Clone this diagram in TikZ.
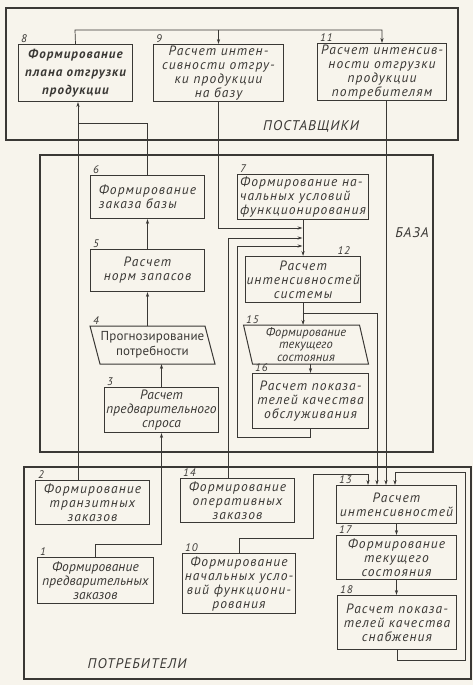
\documentclass[tikz,border=0pt]{standalone}
\usepackage{fontspec}
\setmainfont{PT Sans}
\newfontfamily\handfont[LetterSpace=8]{PT Sans}
\newfontfamily\tightfont[LetterSpace=1]{PT Sans}
\usetikzlibrary{arrows.meta, positioning, calc}
\definecolor{ink}{HTML}{3A3835}
\definecolor{paper}{HTML}{F7F4EC}
\tikzset{
    frame/.style={draw=ink, line width=1.4pt},
    blk/.style={draw=ink, line width=1pt, anchor=north west, align=center, inner sep=1pt,
        font=\handfont\itshape\fontsize{13.5}{14}\selectfont, text=ink},
    slantblk/.style={blk, draw=none},
    tightblk/.style={blk, font=\tightfont\itshape\fontsize{13.5}{14}\selectfont},
    link/.style={draw=ink, line width=0.7pt},
    arr/.style={link, -{Stealth[length=5pt, width=3.2pt]}},
    num/.style={anchor=south west, inner sep=1pt, text=ink,
        font=\handfont\itshape\fontsize{11}{12}\selectfont},
    title/.style={text=ink, font=\handfont\itshape\fontsize{14}{16}\selectfont}
}

\begin{document}
\begin{tikzpicture}[x=1pt, y=-1pt]
    \useasboundingbox (0,0) rectangle (473,685);
    \fill[paper] (0,0) rectangle (473,685);
    % Frames
    \draw[frame] (6,8) rectangle (458,140);
    \draw[frame] (40,155) rectangle (433,452);
    \draw[frame] (24,467) rectangle (471,679);
    \node[title] (tpost) at (311,126) {ПОСТАВЩИКИ};
    \node[title] (tbase) at (412,233) {БАЗА};
    \node[title] (tcons) at (137,664) {ПОТРЕБИТЕЛИ};
    % Suppliers
    \node[blk, minimum width=114, minimum height=57,
        font=\handfont\bfseries\itshape\fontsize{13}{18}\selectfont] (b8) at (18,44)
        {Формирование\\плана отгрузки\\продукции};
    \node[blk, minimum width=130, minimum height=57] (b9) at (153,44)
        {Расчет интен-\\сивности отгру-\\ки продукции\\на базу};
    \node[blk, minimum width=129, minimum height=57] (b11) at (317,43)
        {Расчет интенсив-\\ности отгрузки\\продукции\\потребителям};
    % Base
    \node[blk, minimum width=114, minimum height=43, align=left] (b6) at (90,175)
        {Формирование\\заказа базы};
    \node[blk, minimum width=114, minimum height=42] (b5) at (90,249)
        {Расчет\\норм запасов};
    \node[slantblk, minimum width=114, minimum height=37,
        font=\tightfont\fontsize{13}{15}\selectfont] (b4) at (95,326)
        {Прогнозирование\\потребности};
    \draw[blk] ([xshift=-5pt]b4.north west) -- ([xshift=-5pt]b4.north east)
        -- ([xshift=5pt]b4.south east) -- ([xshift=5pt]b4.south west) -- cycle;
    \node[tightblk, minimum width=114, minimum height=45] (b3) at (104,387)
        {Расчет\\предварительного\\спроса};
    \node[blk, minimum width=131, minimum height=45, align=left] (b7) at (237,174)
        {Формирование на-\\чальных условий\\функционирования};
    \node[blk, minimum width=115, minimum height=46] (b12) at (245,256)
        {Расчет\\интенсивностей\\системы};
    \node[slantblk, minimum width=115, minimum height=38,
        font=\tightfont\itshape\fontsize{12.5}{12.5}\selectfont] (b15) at (248,325)
        {Формирование\\текущего\\состояния};
    \draw[blk] ([xshift=-4.5pt]b15.north west) -- ([xshift=-4.5pt]b15.north east)
        -- ([xshift=4.5pt]b15.south east) -- ([xshift=4.5pt]b15.south west) -- cycle;
    \node[blk, minimum width=116, minimum height=55] (b16) at (252,373)
        {Расчет показа-\\телей качества\\обслуживания};
    % Consumers
    \node[blk, minimum width=114, minimum height=44] (b2) at (35,480)
        {Формирование\\транзитных\\заказов};
    \node[blk, minimum width=114, minimum height=44] (b14) at (180,478)
        {Формирование\\оперативных\\заказов};
    \node[tightblk, minimum width=116, minimum height=46] (b1) at (37,557)
        {Формирование\\предварительных\\заказов};
    \node[blk, minimum width=113, minimum height=60] (b10) at (182,553)
        {Формирование\\начальных усло-\\вий функциони-\\рования};
    \node[blk, minimum width=120, minimum height=38] (b13) at (336,485)
        {Расчет\\интенсивностей};
    \node[blk, minimum width=120, minimum height=44] (b17) at (336,535)
        {Формирование\\текущего\\состояния};
    \node[blk, minimum width=119, minimum height=54] (b18) at (337,595)
        {Расчет показа-\\телей качества\\снабжения};
    % Numbers
    \foreach \b/\t in {b8/8, b9/9, b11/11, b6/6, b5/5, b3/3, b7/7, b16/16,
                       b2/2, b14/14, b1/1, b10/10, b13/13, b17/17, b18/18}
        \node[num] (n\t) at ([xshift=2pt]\b.north west) {\t};
    \node[num] (n4) at ([xshift=-3pt]b4.north west) {4};
    \node[num] (n15) at ([xshift=-3pt]b15.north west) {15};
    \node[num, anchor=south east] (n12) at ([xshift=-10pt]b12.north east) {12};
    % Connectors
    \coordinate (r8) at (75,30);
    \coordinate (j8) at (78,123);
    \coordinate (k1) at (95,544);
    \coordinate (k9) at (302.5,228);
    \coordinate (k14) at (302.5,238);
    \coordinate (k16) at (302.5,246);
    \coordinate (v14) at (228,300);
    \coordinate (l16) at (237,437);
    \coordinate (k12) at (302.5,313);
    \coordinate (m12) at (377,313);
    \coordinate (v11) at (386,300);
    \coordinate (p10) at (313,538);
    \coordinate (q10) at (368,474);
    \coordinate (f18) at (465,660);
    \coordinate (g18) at (395,472);
    \draw[arr] (b8.north) -- (r8) -| (b11.north);
    \draw[arr] (b9.north |- r8) -- (b9.north);
    \draw[arr] (b6.north) |- (j8) -- (b8.south -| j8);
    \draw[link] (b2.north -| j8) -- (j8);
    \draw[arr] (b5.north) -- (b6.south);
    \draw[arr] (b5.south |- b4.north) -- (b5.south);
    \draw[arr] (b3.north) -- (b3.north |- b4.south);
    \draw[arr] (b1.north -| k1) -- (k1) -| (b3.south);
    \draw[arr] (b9.south) |- (k9);
    \draw[arr] (b14.north -| v14) |- (k14);
    \draw[arr] (b16.south) |- (l16) |- (k16);
    \draw[arr] (b12.north |- b7.south) -- (b12.north);
    \draw[arr] (b12.south) -- (b12.south |- b15.north);
    \draw[arr] (b16.north |- b15.south) -- (b16.north);
    \draw[arr] (k12) -- (m12) -- (m12 |- b13.north);
    \draw[arr] (b11.south -| v11) -- (v11 |- b13.north);
    \draw[arr] (b10.north) |- (p10) |- (q10) -- (q10 |- b13.north);
    \draw[arr] (b18.south) |- (f18) |- (g18) -- (g18 |- b13.north);
    \draw[arr] (b13.south) -- (b17.north);
    \draw[arr] (b17.south) -- (b17.south |- b18.north);
\end{tikzpicture}
\end{document}
